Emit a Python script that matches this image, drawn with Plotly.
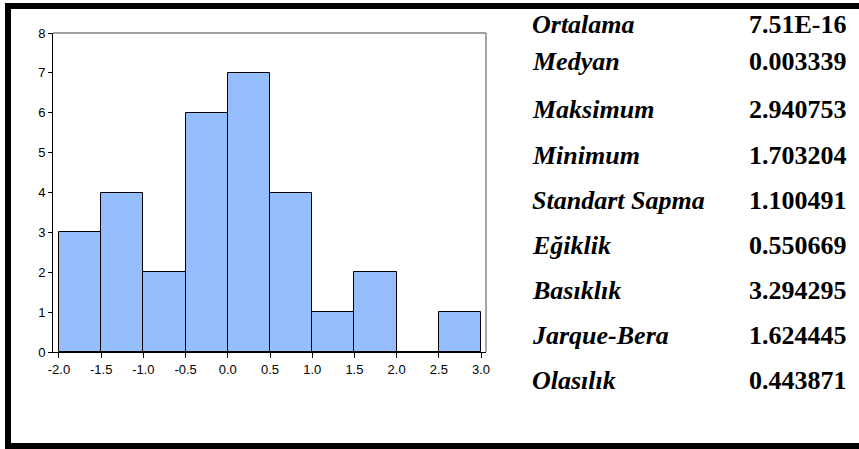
import plotly.graph_objects as go

# ---- data ----
bin_left = [-2.0, -1.5, -1.0, -0.5, 0.0, 0.5, 1.0, 1.5, 2.0, 2.5]
counts = [3, 4, 2, 6, 7, 4, 1, 2, 0, 1]
bin_width = 0.5
x_tickvals = [-2.0, -1.5, -1.0, -0.5, 0.0, 0.5, 1.0, 1.5, 2.0, 2.5, 3.0]
x_ticktext = ["-2.0", "-1.5", "-1.0", "-0.5", "0.0", "0.5", "1.0", "1.5", "2.0", "2.5", "3.0"]
y_tickvals = [0, 1, 2, 3, 4, 5, 6, 7, 8]
stat_labels = ["Ortalama", "Medyan", "Maksimum", "Minimum", "Standart Sapma",
               "Eğiklik", "Basıklık", "Jarque-Bera", "Olasılık"]
stat_values = ["7.51E-16", "0.003339", "2.940753", "1.703204", "1.100491",
               "0.550669", "3.294295", "1.624445", "0.443871"]
stat_rows_y = [24, 62, 109, 155, 200, 245, 290, 335, 380]  # pixel row centres

W, H = 859, 449
L, R, T, B = 53, 486, 33, 352

def fx(x):
    return x / W

def fy(y):
    return (H - y) / H

centers = [b + bin_width / 2 for b in bin_left]

fig = go.Figure()
fig.add_trace(go.Bar(
    x=centers, y=counts, width=bin_width,
    marker=dict(color="#96BEFF", line=dict(color="#000000", width=1)),
    hoverinfo="skip",
))

shapes = []
# plot frame: top (dark gray) and right (gray)
shapes.append(dict(type="line", xref="paper", yref="paper",
                   x0=fx(L), x1=fx(R), y0=fy(T), y1=fy(T),
                   line=dict(color="#404040", width=1)))
shapes.append(dict(type="line", xref="paper", yref="paper",
                   x0=fx(R), x1=fx(R), y0=fy(B), y1=fy(T),
                   line=dict(color="#8a8a8a", width=1.5)))
# outer thick black border (left, top, bottom)
for (x0, y0, x1, y1) in [(5, 3, 11, 449), (5, 3, 859, 9), (5, 443, 859, 449)]:
    shapes.append(dict(type="rect", xref="paper", yref="paper",
                       x0=fx(x0), x1=fx(x1), y0=fy(y0), y1=fy(y1),
                       fillcolor="#000000", line=dict(width=0), layer="above"))
shapes.append(dict(type="line", xref="paper", yref="paper",
                   x0=fx(5), x1=fx(859), y0=fy(6), y1=fy(6),
                   line=dict(color="#000000", width=6), layer="above"))

annotations = []
serif = "Liberation Serif, Times New Roman, serif"
for lab, val, yy in zip(stat_labels, stat_values, stat_rows_y):
    annotations.append(dict(xref="paper", yref="paper", x=fx(530), y=fy(yy),
                            xanchor="left", yanchor="middle", showarrow=False,
                            text="<b><i>" + lab + "</i></b>",
                            font=dict(family=serif, size=26, color="#000000")))
    annotations.append(dict(xref="paper", yref="paper", x=fx(849), y=fy(yy),
                            xanchor="right", yanchor="middle", showarrow=False,
                            text="<b>" + val + "</b>",
                            font=dict(family=serif, size=26, color="#000000")))

tickfont = dict(family="Arial, Liberation Sans, sans-serif", size=13, color="#000000")
fig.update_layout(
    width=W, height=H,
    margin=dict(l=0, r=0, t=0, b=0, pad=0, autoexpand=False),
    paper_bgcolor="#ffffff", plot_bgcolor="#ffffff",
    showlegend=False, bargap=0,
    shapes=shapes, annotations=annotations,
    xaxis=dict(domain=[fx(L), fx(R)], range=[-2.071, 3.059], automargin=False,
               tickvals=x_tickvals, ticktext=x_ticktext,
               showgrid=False, zeroline=False, showline=True, linecolor="#000000", linewidth=1,
               ticks="outside", ticklen=5, tickcolor="#000000", tickwidth=1,
               tickfont=tickfont),
    yaxis=dict(domain=[fy(B), fy(T)], range=[0, 8], tickvals=y_tickvals, automargin=False,
               showgrid=False, zeroline=False, showline=True, linecolor="#000000", linewidth=1,
               ticks="outside", ticklen=4, tickcolor="#000000", tickwidth=1,
               tickfont=tickfont),
)

fig.write_html("out.html", config={"displayModeBar": False},
               post_script="document.body.style.margin='0';document.body.style.overflow='hidden';")
